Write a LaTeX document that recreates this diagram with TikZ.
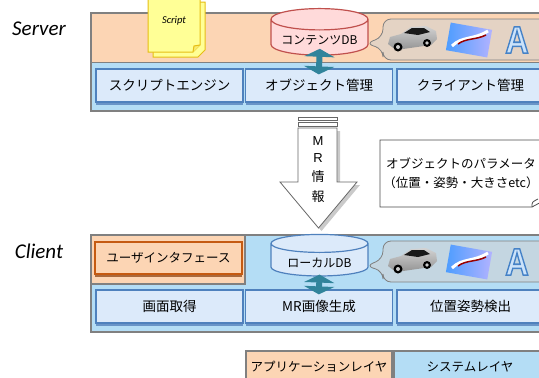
\documentclass[tikz,border=0pt]{standalone}
\usepackage{fontspec}
\setmainfont{Carlito}
\newfontfamily\jp{Noto Sans CJK JP}
\newfontfamily\arial{Liberation Sans}
\usetikzlibrary{shapes.geometric,shadows,arrows.meta,calc}

\definecolor{peach}{RGB}{252,213,180}
\definecolor{panelblue}{RGB}{180,221,245}
\definecolor{frame}{RGB}{128,128,128}
\definecolor{modfill}{RGB}{220,234,250}
\definecolor{modline}{RGB}{79,129,189}
\definecolor{uiline}{RGB}{197,90,17}
\definecolor{dbpink}{RGB}{255,218,218}
\definecolor{dbred}{RGB}{192,80,77}
\definecolor{teal}{RGB}{49,132,155}
\definecolor{noteyellow}{RGB}{255,255,150}
\definecolor{notegold}{RGB}{230,190,20}

% outlined letter: stroke blue, fill pale blue
\newcommand{\outlineA}{\special{pdf:literal direct 2 Tr 1.6 w 0.27 0.51 0.78 RG 0.80 0.89 0.98 rg}A\special{pdf:literal direct 0 Tr}}

\tikzset{
  panel/.style={draw=frame,line width=2pt},
  module/.style={draw=modline,line width=1.2pt,fill=modfill,minimum width=147pt,minimum height=33pt,
    inner sep=0pt,font=\jp\fontsize{13.5}{16}\selectfont,
    drop shadow={shadow xshift=0pt,shadow yshift=-2.5pt,fill=modline!85,opacity=1}},
  uibox/.style={module,draw=uiline,fill=peach,minimum height=32pt,font=\jp\fontsize{12.5}{15}\selectfont,
    drop shadow={shadow xshift=0pt,shadow yshift=-2.5pt,fill=uiline!60!gray,opacity=1}},
  dbnode/.style={cylinder,shape border rotate=90,aspect=0.28,minimum width=97pt,minimum height=39pt,
    inner sep=0pt,line width=1.2pt,text height=14pt,text depth=0pt,font=\jp\fontsize{12}{14}\selectfont},
  dbarrow/.style={teal,line width=6pt,{Triangle[width=30pt,length=8pt]}-{Triangle[width=30pt,length=8pt]}},
  bubble/.style={draw=frame,line width=0.8pt,fill=gray!35,fill opacity=0.55},
  legend/.style={draw=frame,line width=2pt,minimum width=146pt,minimum height=32pt,anchor=north,
    font=\jp\fontsize{12.5}{15}\selectfont},
  layerlabel/.style={font=\itshape\fontsize{21}{24}\selectfont},
  mrtext/.style={font=\jp\fontsize{13}{15}\selectfont,inner sep=0pt},
  note/.style={fill=noteyellow,draw=notegold,line width=1pt}
}

\begin{document}
\begin{tikzpicture}[x=1pt,y=-1pt]
\useasboundingbox (0,0) rectangle (539,378);

% server panel
\fill[peach] (91,13) rectangle (545,62);
\fill[panelblue] (91,62) rectangle (545,111);
\draw[frame,line width=1pt] (91,62) -- (545,62);
\draw[panel] (91,13) rectangle (545,111);
\node[layerlabel] (server) at (39,29) {Server};

% script sheets
\draw[note] (153,2) -- (205,2) -- (205,50) -- (198,57) -- (153,57) -- cycle;
\draw[note] (148,-3) -- (200,-3) -- (200,45) -- (193,52) -- (148,52) -- cycle;
\draw[note,fill=noteyellow!70!notegold] (200,45) -- (194,46) -- (193,52);
\node[font=\itshape\fontsize{10.5}{12}\selectfont] (script) at (174,21) {Script};

\node[module] (engine) at (169.5,85.5) {スクリプトエンジン};
\node[module] (objmgr) at (319,85.5) {オブジェクト管理};
\node[module] (climgr) at (470.5,85.5) {クライアント管理};
\node[dbnode,draw=dbred,fill=dbpink] (cdb) at (319.5,37.5) {コンテンツDB};
\draw[dbarrow,shorten <=-7pt,shorten >=-6pt] (cdb.south) -- (objmgr.north);

% client panel
\fill[panelblue] (91,235) rectangle (545,332);
\fill[peach] (91,235) rectangle (245,284);
\draw[frame,line width=1.5pt] (91,284) -- (245,284) -- (245,235);
\draw[panel] (91,235) rectangle (545,332);
\node[layerlabel] (client) at (39,251) {Client};

\node[uibox] (ui) at (168.5,258) {ユーザインタフェース};
\node[module] (capture) at (169.5,306.5) {画面取得};
\node[module] (mrgen) at (319,306.5) {MR画像生成};
\node[module] (pose) at (470.5,306.5) {位置姿勢検出};
\node[dbnode,draw=modline,fill=modfill] (ldb) at (319.5,260) {ローカルDB};
\draw[dbarrow,shorten <=-2pt,shorten >=-5pt] (ldb.south) -- (mrgen.north);

% content bubbles: car, photo, letter
\foreach \db/\dy in {cdb/0,ldb/222}{
  \coordinate (tip\dy) at ($(\db.east)+(-3,6)$);
  \begin{scope}[yshift=-\dy pt]
    \draw[bubble,rounded corners=8pt] (383,19) -- (548,19) -- (548,60) -- (383,60) -- (383,49)
      -- (tip\dy) -- (383,37) -- cycle;
    \shade[top color=gray!35,bottom color=gray!85] (388,44) -- (390,37) -- (401,34) -- (411,27) -- (426,26)
      -- (436,31) -- (437,39) -- (431,45) -- (396,50) -- cycle;
    \fill[gray!20!black] (404,33) -- (412,28) -- (424,28) -- (430,32) -- (418,35) -- cycle;
    \fill[black] (398,47) circle (4.5) (427,43) circle (4);
    \fill[gray!40] (398,47) circle (2) (427,43) circle (1.8);
    \shade[left color=blue!55!cyan!70!white,right color=blue!30!white,rotate around={-10:(469,40)}]
      (448,26) rectangle (490,54);
    \draw[white,line width=3pt] (452,46) .. controls (462,36) and (474,40) .. (488,31);
    \draw[red!60!black,line width=1.5pt] (458,44) .. controls (466,38) and (476,40) .. (486,35);
    \node[font=\arial\bfseries\fontsize{38}{38}\selectfont,xscale=0.85] (letter\dy) at (517,40) {\outlineA};
  \end{scope}
}

% MR information arrow
\draw[frame!80!black,fill=white,line width=0.8pt] (298,117) rectangle (337,120);
\draw[frame!80!black,fill=white,line width=0.8pt] (298,122.5) rectangle (337,126);
\draw[frame!80!black,fill=white,line width=0.8pt,
  drop shadow={shadow xshift=3pt,shadow yshift=-3pt,fill=gray!70,opacity=0.6}]
  (298,128) -- (337,128) -- (337,182) -- (357,182) -- (318.5,228) -- (280,182) -- (298,182) -- cycle;
\node[mrtext,font=\arial\fontsize{13}{15}\selectfont] (m) at (318,141) {M};
\node[mrtext,font=\arial\fontsize{13}{15}\selectfont] (r) at (318,158) {R};
\node[mrtext] (jo) at (318,177) {情};
\node[mrtext] (ho) at (318,197) {報};

% parameter note
\draw[black!70,line width=0.8pt,fill=white] (380,140) -- (545,140) -- (545,200) -- (532,207) -- (380,207) -- cycle;
\draw[black!70,line width=0.8pt] (532,207) .. controls (532,202) .. (538,199);
\node[align=center,font=\jp\fontsize{12.5}{19}\selectfont] (param) at (461,173)
  {オブジェクトのパラメータ\\（位置・姿勢・大きさetc）};

% legend
\node[legend,fill=peach] (applayer) at (319,350) {アプリケーションレイヤ};
\node[legend,fill=panelblue,minimum width=152pt] (syslayer) at (470,350) {システムレイヤ};
\end{tikzpicture}
\end{document}
